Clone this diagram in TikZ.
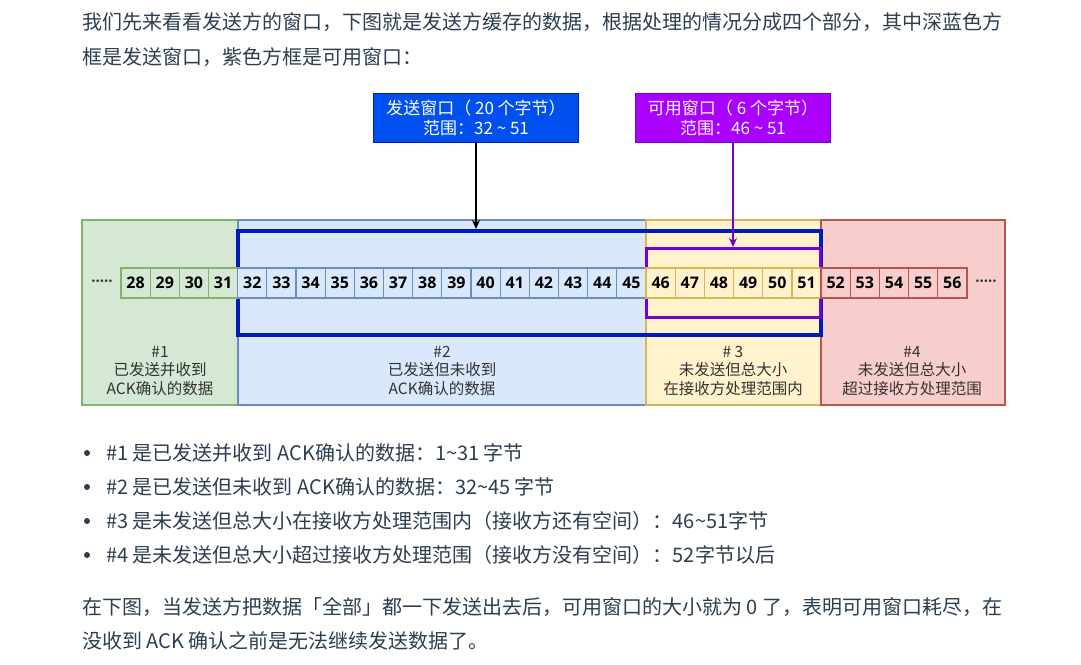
\documentclass[tikz,border=0pt]{standalone}
\usepackage{fontspec}
\usepackage{tikz}
\usetikzlibrary{arrows.meta}
\setmainfont{Noto Sans CJK SC}
\newfontfamily\numfont{Open Sans}
\definecolor{txt}{HTML}{2C3E50}
\definecolor{labtxt}{HTML}{333333}
\definecolor{grnfill}{HTML}{D5E8D4}\definecolor{grnline}{HTML}{82B366}
\definecolor{blufill}{HTML}{DAE8FC}\definecolor{bluline}{HTML}{6C8EBF}
\definecolor{ylwfill}{HTML}{FFF2CC}\definecolor{ylwline}{HTML}{D6B656}
\definecolor{redfill}{HTML}{F8CECC}\definecolor{redline}{HTML}{B85450}
\definecolor{winblue}{HTML}{001DBC}
\definecolor{sendfill}{HTML}{0050EF}
\definecolor{availfill}{HTML}{AA00FF}
\definecolor{availline}{HTML}{7700CC}
\newcommand{\tld}{\textasciitilde}
\tikzset{
  para/.style={anchor=west,inner sep=0pt,text=txt,font=\fontsize{20}{20}\selectfont},
  cell/.style={minimum width=29.17pt,minimum height=30pt,inner sep=0pt,line width=1.2pt,font=\numfont\bfseries\fontsize{16}{16}\selectfont},
  partlabel/.style={align=center,text=labtxt,font=\fontsize{15.5}{18.5}\selectfont},
  winlabel/.style={align=center,text=white,line width=1pt,minimum height=49pt,inner sep=0pt,font=\fontsize{17}{20}\selectfont},
  bullet/.style={circle,fill=txt,inner sep=0pt,minimum size=6pt}
}
\begin{document}
\begin{tikzpicture}[x=1pt,y=-1pt]
\useasboundingbox[fill=white] (0,0) rectangle (1081,664);
% paragraph above
\node[para] (p1) at (82,22) {我们先来看看发送方的窗口，下图就是发送方缓存的数据，根据处理的情况分成四个部分，其中深蓝色方};
\node[para] (p2) at (82,57) {框是发送窗口，紫色方框是可用窗口：};
% four parts
\draw[draw=grnline,fill=grnfill,line width=1.2pt] (82,220) rectangle (238,405);
\draw[draw=bluline,fill=blufill,line width=1.2pt] (238,220) rectangle (646,405);
\draw[draw=ylwline,fill=ylwfill,line width=1.2pt] (646,220) rectangle (821,405);
\draw[draw=redline,fill=redfill,line width=1.2pt] (821,220) rectangle (1005,405);
% windows
\draw[winblue,line width=3.5pt] (238,231) rectangle (821,335);
\draw[availline,line width=3pt] (646,248) rectangle (820,317);
% byte cells
\foreach \n in {28,...,31}
  \node[cell,draw=grnline,fill=grnfill] (c\n) at ({121+(\n-27.5)*29.17},283) {\n};
\foreach \n in {32,...,45}
  \node[cell,draw=bluline,fill=blufill] (c\n) at ({121+(\n-27.5)*29.17},283) {\n};
\foreach \n in {46,...,51}
  \node[cell,draw=ylwline,fill=ylwfill] (c\n) at ({121+(\n-27.5)*29.17},283) {\n};
\foreach \n in {52,...,56}
  \node[cell,draw=redline,fill=redfill] (c\n) at ({121+(\n-27.5)*29.17},283) {\n};
\node[text=labtxt,font=\numfont\bfseries\fontsize{15}{15}\selectfont] (dotsl) at (102,283) {·····};
\node[text=labtxt,font=\numfont\bfseries\fontsize{15}{15}\selectfont] (dotsr) at (986,283) {·····};
% part labels
\node[partlabel] (lab1) at (160,371) {\#1\\已发送并收到\\ACK确认的数据};
\node[partlabel] (lab2) at (442,371) {\#2\\已发送但未收到\\ACK确认的数据};
\node[partlabel] (lab3) at (733,371) {\# 3\\未发送但总大小\\在接收方处理范围内};
\node[partlabel] (lab4) at (912,371) {\#4\\未发送但总大小\\超过接收方处理范围};
% window labels
\node[winlabel,fill=sendfill,draw=winblue,minimum width=205pt] (sendwin) at (476,117.5) {发送窗口（ 20 个字节）\\范围：32 \tld{} 51};
\node[winlabel,fill=availfill,draw=availline,minimum width=195pt] (availwin) at (733,117.5) {可用窗口（ 6 个字节）\\范围：46 \tld{} 51};
\coordinate (sendtip) at (476,229);
\coordinate (availtip) at (733,247);
\draw[-{Stealth[length=9pt,width=8pt]},line width=1.5pt] (sendwin) -- (sendtip);
\draw[-{Stealth[length=9pt,width=8pt]},line width=1.5pt,availline] (availwin) -- (availtip);
% bullet list
\node[bullet] (b1) at (87,453) {};
\node[bullet] (b2) at (87,487) {};
\node[bullet] (b3) at (87,521) {};
\node[bullet] (b4) at (87,555) {};
\node[para] (t1) at (106,453) {\#1 是已发送并收到 ACK确认的数据：1\tld{}31 字节};
\node[para] (t2) at (106,487) {\#2 是已发送但未收到 ACK确认的数据：32\tld{}45 字节};
\node[para] (t3) at (106,521) {\#3 是未发送但总大小在接收方处理范围内（接收方还有空间）：46\tld{}51字节};
\node[para] (t4) at (106,555) {\#4 是未发送但总大小超过接收方处理范围（接收方没有空间）：52字节以后};
% paragraph below
\node[para] (p3) at (82,607) {在下图，当发送方把数据「全部」都一下发送出去后，可用窗口的大小就为 0 了，表明可用窗口耗尽，在};
\node[para] (p4) at (82,641) {没收到 ACK 确认之前是无法继续发送数据了。};
\end{tikzpicture}
\end{document}
